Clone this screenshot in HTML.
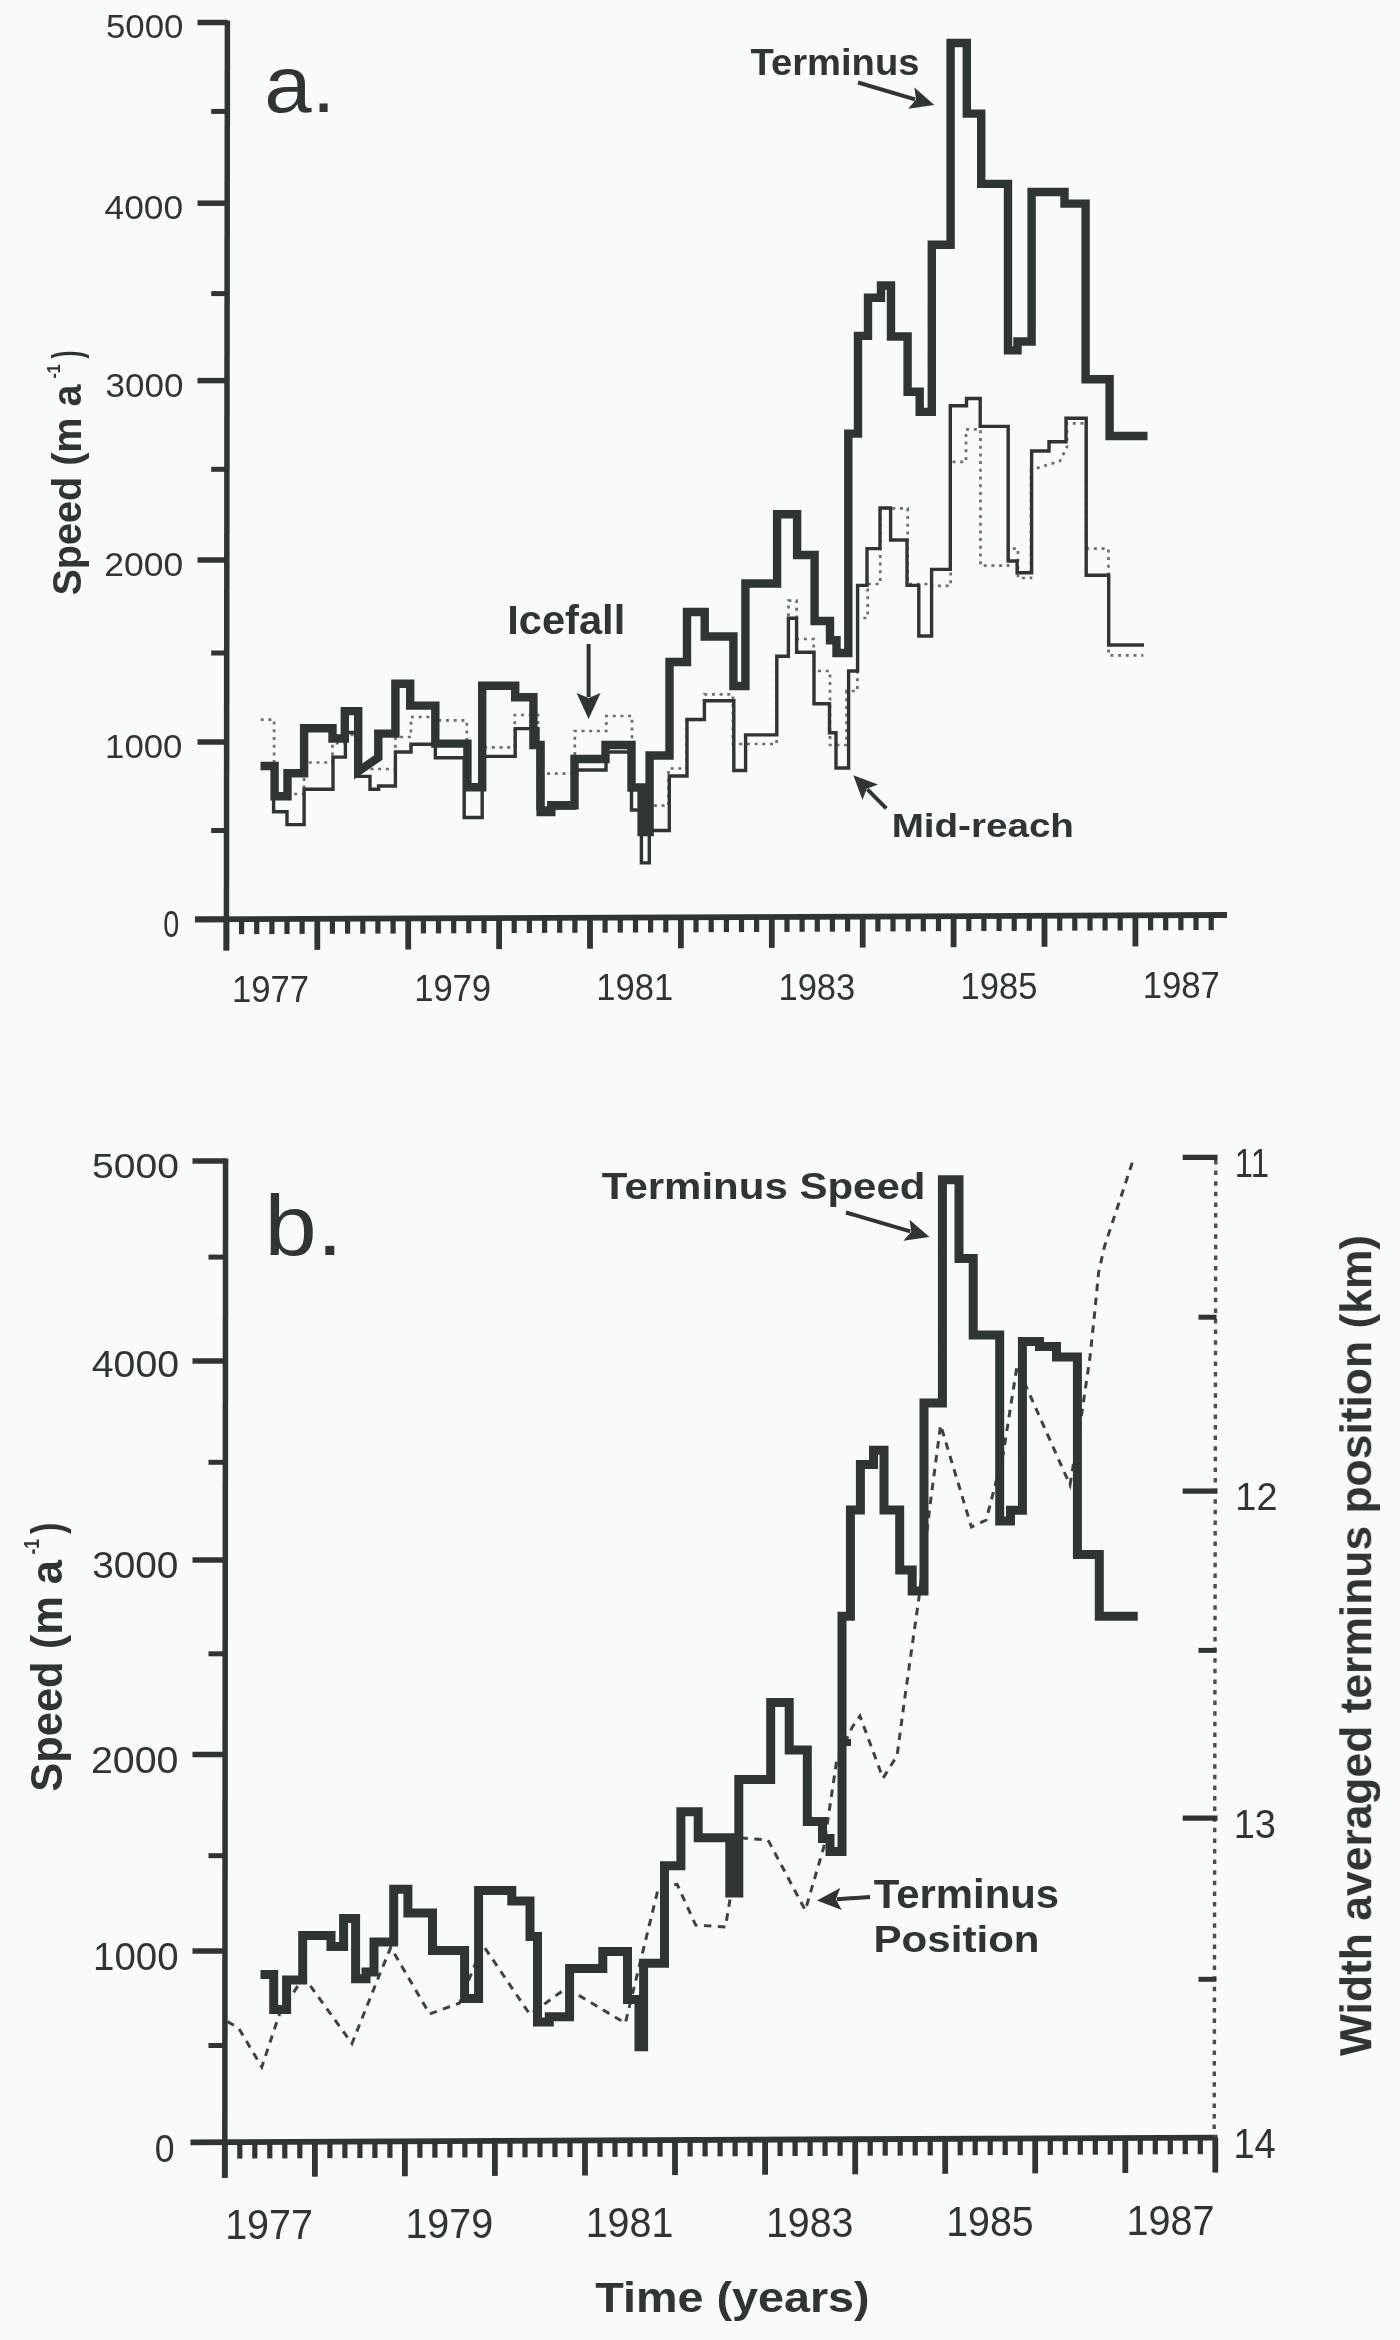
<!DOCTYPE html>
<html><head><meta charset="utf-8"><title>Glacier speed</title>
<style>
html,body{margin:0;padding:0;background:#f9fbf9;}
svg{display:block;}
text{font-family:"Liberation Sans", sans-serif;}
</style></head>
<body>
<svg xmlns="http://www.w3.org/2000/svg" width="1400" height="2340" viewBox="0 0 1400 2340">
<defs><filter id="soft" x="0" y="0" width="1" height="1"><feGaussianBlur stdDeviation="0.55"/></filter></defs>
<rect x="0" y="0" width="1400" height="2340" fill="#f9fbf9"/>
<g filter="url(#soft)">
<line x1="227.4" y1="20.5" x2="226.4" y2="950.5" stroke="#2f3533" stroke-width="5.5" />
<line x1="195.0" y1="919.4" x2="1227.0" y2="915.0" stroke="#2f3533" stroke-width="5.8" />
<line x1="197.5" y1="22.5" x2="227.4" y2="22.5" stroke="#2f3533" stroke-width="5.5" />
<line x1="211.2" y1="111.4" x2="227.3" y2="111.4" stroke="#2f3533" stroke-width="5.0" />
<line x1="197.5" y1="203.2" x2="227.2" y2="203.2" stroke="#2f3533" stroke-width="5.5" />
<line x1="211.2" y1="293.6" x2="227.1" y2="293.6" stroke="#2f3533" stroke-width="5.0" />
<line x1="197.5" y1="380.6" x2="227.0" y2="380.6" stroke="#2f3533" stroke-width="5.5" />
<line x1="211.2" y1="469.3" x2="226.9" y2="469.3" stroke="#2f3533" stroke-width="5.0" />
<line x1="197.5" y1="560.0" x2="226.8" y2="560.0" stroke="#2f3533" stroke-width="5.5" />
<line x1="211.2" y1="653.0" x2="226.7" y2="653.0" stroke="#2f3533" stroke-width="5.0" />
<line x1="197.5" y1="742.0" x2="226.6" y2="742.0" stroke="#2f3533" stroke-width="5.5" />
<line x1="211.2" y1="830.5" x2="226.5" y2="830.5" stroke="#2f3533" stroke-width="5.0" />
<line x1="195.0" y1="919.4" x2="226.4" y2="919.4" stroke="#2f3533" stroke-width="5.8" />
<text x="106.01" y="37.67" font-size="33.10" font-weight="normal" fill="#2f3533" textLength="77.50" lengthAdjust="spacingAndGlyphs">5000</text>
<text x="104.49" y="219.46" font-size="33.52" font-weight="normal" fill="#2f3533" textLength="78.63" lengthAdjust="spacingAndGlyphs">4000</text>
<text x="105.60" y="396.57" font-size="32.54" font-weight="normal" fill="#2f3533" textLength="77.92" lengthAdjust="spacingAndGlyphs">3000</text>
<text x="104.23" y="575.86" font-size="34.08" font-weight="normal" fill="#2f3533" textLength="78.90" lengthAdjust="spacingAndGlyphs">2000</text>
<text x="105.09" y="757.97" font-size="32.54" font-weight="normal" fill="#2f3533" textLength="77.31" lengthAdjust="spacingAndGlyphs">1000</text>
<text x="163.35" y="936.93" font-size="36.62" font-weight="normal" fill="#2f3533" textLength="15.99" lengthAdjust="spacingAndGlyphs">0</text>
<line x1="226.4" y1="919.3" x2="226.4" y2="950.3" stroke="#2f3533" stroke-width="5.8" />
<line x1="317.3" y1="918.9" x2="317.3" y2="949.9" stroke="#2f3533" stroke-width="5.8" />
<line x1="408.2" y1="918.5" x2="408.2" y2="949.5" stroke="#2f3533" stroke-width="5.8" />
<line x1="499.1" y1="918.1" x2="499.1" y2="949.1" stroke="#2f3533" stroke-width="5.8" />
<line x1="590.0" y1="917.7" x2="590.0" y2="948.7" stroke="#2f3533" stroke-width="5.8" />
<line x1="680.9" y1="917.3" x2="680.9" y2="948.3" stroke="#2f3533" stroke-width="5.8" />
<line x1="771.8" y1="916.9" x2="771.8" y2="947.9" stroke="#2f3533" stroke-width="5.8" />
<line x1="862.7" y1="916.6" x2="862.7" y2="947.6" stroke="#2f3533" stroke-width="5.8" />
<line x1="953.6" y1="916.2" x2="953.6" y2="947.2" stroke="#2f3533" stroke-width="5.8" />
<line x1="1044.5" y1="915.8" x2="1044.5" y2="946.8" stroke="#2f3533" stroke-width="5.8" />
<line x1="1135.4" y1="915.4" x2="1135.4" y2="946.4" stroke="#2f3533" stroke-width="5.8" />
<line x1="241.6" y1="919.2" x2="241.6" y2="934.2" stroke="#2f3533" stroke-width="5.2" />
<line x1="256.7" y1="919.1" x2="256.7" y2="934.1" stroke="#2f3533" stroke-width="5.2" />
<line x1="271.9" y1="919.1" x2="271.9" y2="934.1" stroke="#2f3533" stroke-width="5.2" />
<line x1="287.0" y1="919.0" x2="287.0" y2="934.0" stroke="#2f3533" stroke-width="5.2" />
<line x1="302.1" y1="918.9" x2="302.1" y2="933.9" stroke="#2f3533" stroke-width="5.2" />
<line x1="332.4" y1="918.8" x2="332.4" y2="933.8" stroke="#2f3533" stroke-width="5.2" />
<line x1="347.6" y1="918.7" x2="347.6" y2="933.7" stroke="#2f3533" stroke-width="5.2" />
<line x1="362.8" y1="918.7" x2="362.8" y2="933.7" stroke="#2f3533" stroke-width="5.2" />
<line x1="377.9" y1="918.6" x2="377.9" y2="933.6" stroke="#2f3533" stroke-width="5.2" />
<line x1="393.1" y1="918.6" x2="393.1" y2="933.6" stroke="#2f3533" stroke-width="5.2" />
<line x1="423.4" y1="918.4" x2="423.4" y2="933.4" stroke="#2f3533" stroke-width="5.2" />
<line x1="438.5" y1="918.4" x2="438.5" y2="933.4" stroke="#2f3533" stroke-width="5.2" />
<line x1="453.7" y1="918.3" x2="453.7" y2="933.3" stroke="#2f3533" stroke-width="5.2" />
<line x1="468.8" y1="918.2" x2="468.8" y2="933.2" stroke="#2f3533" stroke-width="5.2" />
<line x1="484.0" y1="918.2" x2="484.0" y2="933.2" stroke="#2f3533" stroke-width="5.2" />
<line x1="514.2" y1="918.0" x2="514.2" y2="933.0" stroke="#2f3533" stroke-width="5.2" />
<line x1="529.4" y1="918.0" x2="529.4" y2="933.0" stroke="#2f3533" stroke-width="5.2" />
<line x1="544.6" y1="917.9" x2="544.6" y2="932.9" stroke="#2f3533" stroke-width="5.2" />
<line x1="559.7" y1="917.8" x2="559.7" y2="932.8" stroke="#2f3533" stroke-width="5.2" />
<line x1="574.9" y1="917.8" x2="574.9" y2="932.8" stroke="#2f3533" stroke-width="5.2" />
<line x1="605.1" y1="917.7" x2="605.1" y2="932.7" stroke="#2f3533" stroke-width="5.2" />
<line x1="620.3" y1="917.6" x2="620.3" y2="932.6" stroke="#2f3533" stroke-width="5.2" />
<line x1="635.5" y1="917.5" x2="635.5" y2="932.5" stroke="#2f3533" stroke-width="5.2" />
<line x1="650.6" y1="917.5" x2="650.6" y2="932.5" stroke="#2f3533" stroke-width="5.2" />
<line x1="665.8" y1="917.4" x2="665.8" y2="932.4" stroke="#2f3533" stroke-width="5.2" />
<line x1="696.0" y1="917.3" x2="696.0" y2="932.3" stroke="#2f3533" stroke-width="5.2" />
<line x1="711.2" y1="917.2" x2="711.2" y2="932.2" stroke="#2f3533" stroke-width="5.2" />
<line x1="726.4" y1="917.1" x2="726.4" y2="932.1" stroke="#2f3533" stroke-width="5.2" />
<line x1="741.5" y1="917.1" x2="741.5" y2="932.1" stroke="#2f3533" stroke-width="5.2" />
<line x1="756.6" y1="917.0" x2="756.6" y2="932.0" stroke="#2f3533" stroke-width="5.2" />
<line x1="787.0" y1="916.9" x2="787.0" y2="931.9" stroke="#2f3533" stroke-width="5.2" />
<line x1="802.1" y1="916.8" x2="802.1" y2="931.8" stroke="#2f3533" stroke-width="5.2" />
<line x1="817.3" y1="916.7" x2="817.3" y2="931.7" stroke="#2f3533" stroke-width="5.2" />
<line x1="832.4" y1="916.7" x2="832.4" y2="931.7" stroke="#2f3533" stroke-width="5.2" />
<line x1="847.6" y1="916.6" x2="847.6" y2="931.6" stroke="#2f3533" stroke-width="5.2" />
<line x1="877.9" y1="916.5" x2="877.9" y2="931.5" stroke="#2f3533" stroke-width="5.2" />
<line x1="893.0" y1="916.4" x2="893.0" y2="931.4" stroke="#2f3533" stroke-width="5.2" />
<line x1="908.2" y1="916.4" x2="908.2" y2="931.4" stroke="#2f3533" stroke-width="5.2" />
<line x1="923.3" y1="916.3" x2="923.3" y2="931.3" stroke="#2f3533" stroke-width="5.2" />
<line x1="938.5" y1="916.2" x2="938.5" y2="931.2" stroke="#2f3533" stroke-width="5.2" />
<line x1="968.8" y1="916.1" x2="968.8" y2="931.1" stroke="#2f3533" stroke-width="5.2" />
<line x1="983.9" y1="916.0" x2="983.9" y2="931.0" stroke="#2f3533" stroke-width="5.2" />
<line x1="999.1" y1="916.0" x2="999.1" y2="931.0" stroke="#2f3533" stroke-width="5.2" />
<line x1="1014.2" y1="915.9" x2="1014.2" y2="930.9" stroke="#2f3533" stroke-width="5.2" />
<line x1="1029.3" y1="915.8" x2="1029.3" y2="930.8" stroke="#2f3533" stroke-width="5.2" />
<line x1="1059.7" y1="915.7" x2="1059.7" y2="930.7" stroke="#2f3533" stroke-width="5.2" />
<line x1="1074.8" y1="915.6" x2="1074.8" y2="930.6" stroke="#2f3533" stroke-width="5.2" />
<line x1="1090.0" y1="915.6" x2="1090.0" y2="930.6" stroke="#2f3533" stroke-width="5.2" />
<line x1="1105.1" y1="915.5" x2="1105.1" y2="930.5" stroke="#2f3533" stroke-width="5.2" />
<line x1="1120.2" y1="915.5" x2="1120.2" y2="930.5" stroke="#2f3533" stroke-width="5.2" />
<line x1="1150.6" y1="915.3" x2="1150.6" y2="930.3" stroke="#2f3533" stroke-width="5.2" />
<line x1="1165.7" y1="915.3" x2="1165.7" y2="930.3" stroke="#2f3533" stroke-width="5.2" />
<line x1="1180.9" y1="915.2" x2="1180.9" y2="930.2" stroke="#2f3533" stroke-width="5.2" />
<line x1="1196.0" y1="915.1" x2="1196.0" y2="930.1" stroke="#2f3533" stroke-width="5.2" />
<line x1="1211.2" y1="915.1" x2="1211.2" y2="930.1" stroke="#2f3533" stroke-width="5.2" />
<text x="232.00" y="1002.04" font-size="36.34" font-weight="normal" fill="#2f3533" textLength="77.12" lengthAdjust="spacingAndGlyphs">1977</text>
<text x="414.16" y="1001.24" font-size="36.34" font-weight="normal" fill="#2f3533" textLength="76.94" lengthAdjust="spacingAndGlyphs">1979</text>
<text x="596.31" y="1000.44" font-size="36.34" font-weight="normal" fill="#2f3533" textLength="76.94" lengthAdjust="spacingAndGlyphs">1981</text>
<text x="778.46" y="999.64" font-size="36.34" font-weight="normal" fill="#2f3533" textLength="76.76" lengthAdjust="spacingAndGlyphs">1983</text>
<text x="960.61" y="998.84" font-size="36.34" font-weight="normal" fill="#2f3533" textLength="76.76" lengthAdjust="spacingAndGlyphs">1985</text>
<text x="1142.75" y="998.04" font-size="36.34" font-weight="normal" fill="#2f3533" textLength="77.12" lengthAdjust="spacingAndGlyphs">1987</text>
<polyline points="260.7,719.6 274.1,719.6 274.1,794.0 304.1,794.0 304.1,762.5 332.5,762.5 332.5,743.2 345.0,743.2 345.0,735.0 358.0,735.0 358.0,769.0 395.4,769.0 395.4,737.0 410.9,737.0 410.9,717.0 435.3,717.0 435.3,720.4 466.8,720.4 466.8,788.0 482.2,788.0 482.2,747.4 514.8,747.4 514.8,715.0 538.0,715.0 538.0,773.6 574.8,773.6 574.8,731.0 606.3,731.0 606.3,716.0 632.0,716.0 632.0,790.0 650.0,790.0 650.0,805.7 668.5,805.7 668.5,768.5 686.6,768.5 686.6,720.0 704.5,720.0 704.5,694.3 732.9,694.3 732.9,744.0 776.6,744.0 776.6,656.3 788.5,656.3 788.5,600.6 796.6,600.6 796.6,639.0 813.7,639.0 813.7,671.0 830.0,671.0 830.0,745.0 846.5,745.0 846.5,691.0 857.4,691.0 857.4,618.0 867.7,618.0 867.7,584.0 880.3,584.0 880.3,508.3 907.7,508.3 907.7,584.0 931.6,584.0 931.6,585.9 950.6,585.9 950.6,461.9 966.0,461.9 966.0,429.3 980.5,429.3 980.5,565.7 1008.0,565.7 1008.0,548.6 1018.0,548.6 1018.0,578.0 1031.0,578.0 1031.0,470.0 1060.0,461.0 1067.0,447.0 1067.0,423.4 1086.0,423.4 1086.0,548.6 1108.5,548.6 1108.5,655.3 1143.4,655.3" fill="none" stroke="#6a6f6d" stroke-width="2.7" stroke-dasharray="3 4.7" stroke-linejoin="miter"/>
<polyline points="262.0,768.0 273.6,768.0 273.6,811.8 287.0,811.8 287.0,824.6 304.1,824.6 304.1,789.3 333.0,789.3 333.0,757.1 345.4,757.1 345.4,732.5 358.0,732.5 358.0,776.4 370.0,776.4 370.0,789.3 378.6,789.3 378.6,786.0 395.4,786.0 395.4,752.0 411.0,752.0 411.0,744.2 435.3,744.2 435.3,757.7 464.2,757.7 464.2,817.5 482.2,817.5 482.2,756.4 515.2,756.4 515.2,728.6 538.0,728.6 538.0,808.0 574.5,808.0 574.5,770.0 606.0,770.0 606.0,752.0 631.5,752.0 631.5,810.0 641.4,810.0 641.4,862.9 649.3,862.9 649.3,830.5 669.3,830.5 669.3,776.0 687.0,776.0 687.0,719.5 704.4,719.5 704.4,700.8 733.8,700.8 733.8,770.5 745.6,770.5 745.6,734.9 776.8,734.9 776.8,656.3 788.4,656.3 788.4,618.3 796.6,618.3 796.6,652.3 814.0,652.3 814.0,703.7 829.5,703.7 829.5,732.8 836.0,732.8 836.0,768.0 848.6,768.0 848.6,671.0 857.6,671.0 857.6,585.4 867.0,585.4 867.0,548.6 880.0,548.6 880.0,508.0 890.6,508.0 890.6,540.0 907.0,540.0 907.0,585.4 918.8,585.4 918.8,636.0 931.6,636.0 931.6,569.4 950.3,569.4 950.3,405.7 966.5,405.7 966.5,398.5 980.2,398.5 980.2,426.4 1008.2,426.4 1008.2,561.0 1017.1,561.0 1017.1,572.8 1031.6,572.8 1031.6,451.0 1049.0,451.0 1049.0,441.8 1066.0,441.8 1066.0,418.3 1086.2,418.3 1086.2,575.3 1108.7,575.3 1108.7,645.0 1144.0,645.0" fill="none" stroke="#2f3533" stroke-width="3.4" stroke-linejoin="miter" stroke-linecap="butt"/>
<polyline points="260.5,766.0 274.6,766.0 274.6,796.3 287.5,796.3 287.5,773.2 304.1,773.2 304.1,728.2 332.5,728.2 332.5,738.5 344.8,738.5 344.8,711.1 358.2,711.1 358.2,771.5 378.3,757.5 378.3,733.6 395.4,733.6 395.4,683.8 410.2,683.8 410.2,705.6 435.3,705.6 435.3,743.6 467.4,743.6 467.4,787.3 482.2,787.3 482.2,685.7 515.2,685.7 515.2,697.3 533.4,697.3 533.4,745.0 540.6,745.0 540.6,812.0 551.3,812.0 551.3,805.3 574.5,805.3 574.5,759.0 605.5,759.0 605.5,745.0 631.5,745.0 631.5,787.5 641.6,787.5 641.6,832.0 649.6,832.0 649.6,755.5 669.5,755.5 669.5,662.0 687.0,662.0 687.0,612.0 704.7,612.0 704.7,636.5 733.4,636.5 733.4,686.0 745.4,686.0 745.4,583.5 777.1,583.5 777.1,514.3 797.1,514.3 797.1,555.0 814.6,555.0 814.6,621.0 830.0,621.0 830.0,640.3 836.5,640.3 836.5,653.0 848.3,653.0 848.3,433.6 858.0,433.6 858.0,335.9 868.0,335.9 868.0,297.7 881.0,297.7 881.0,285.5 891.0,285.5 891.0,336.5 907.6,336.5 907.6,391.7 919.7,391.7 919.7,411.9 931.8,411.9 931.8,244.7 950.6,244.7 950.6,43.0 966.8,43.0 966.8,113.6 981.2,113.6 981.2,183.9 1008.0,183.9 1008.0,350.4 1017.5,350.4 1017.5,341.5 1031.6,341.5 1031.6,192.0 1064.5,192.0 1064.5,203.6 1085.6,203.6 1085.6,379.2 1109.6,379.2 1109.6,436.0 1147.5,436.0" fill="none" stroke="#2f3533" stroke-width="8.4" stroke-linejoin="miter" stroke-miterlimit="10" stroke-linecap="butt"/>
<text x="264.39" y="112.40" font-size="80.18" font-weight="normal" fill="#2f3533" textLength="71.01" lengthAdjust="spacingAndGlyphs">a.</text>
<text x="750.42" y="75.44" font-size="36.19" font-weight="bold" fill="#2f3533" textLength="169.08" lengthAdjust="spacingAndGlyphs">Terminus</text>
<line x1="858.0" y1="82.5" x2="915.1" y2="99.3" stroke="#2f3533" stroke-width="4" />
<polygon points="934.3,104.9 908.2,108.7 916.1,99.5 914.4,87.6" fill="#2f3533"/>
<text x="507.19" y="634.49" font-size="40.54" font-weight="bold" fill="#2f3533" textLength="118.02" lengthAdjust="spacingAndGlyphs">Icefall</text>
<line x1="588.6" y1="644.0" x2="588.6" y2="697.0" stroke="#2f3533" stroke-width="4" />
<polygon points="588.6,719.0 576.6,693.0 588.6,698.0 600.6,693.0" fill="#2f3533"/>
<text x="891.69" y="836.97" font-size="33.47" font-weight="bold" fill="#2f3533" textLength="182.25" lengthAdjust="spacingAndGlyphs">Mid-reach</text>
<line x1="886.3" y1="808.3" x2="867.4" y2="789.4" stroke="#2f3533" stroke-width="4" />
<polygon points="853.3,775.3 878.0,784.5 866.7,788.7 862.5,800.0" fill="#2f3533"/>
<text x="80.91" y="595.59" font-size="40.43" font-weight="bold" fill="#2f3533" textLength="211.09" lengthAdjust="spacingAndGlyphs" transform="rotate(-90 80.91 595.59)">Speed (m a</text>
<text x="60.40" y="378.54" font-size="19.28" font-weight="bold" fill="#2f3533" textLength="14.34" lengthAdjust="spacingAndGlyphs" transform="rotate(-90 60.40 378.54)">-1</text>
<text x="80.80" y="358.40" font-size="40.96" font-weight="bold" fill="#2f3533" textLength="7.95" lengthAdjust="spacingAndGlyphs" transform="rotate(-90 80.80 358.40)">)</text>
<line x1="225.6" y1="1158.5" x2="224.8" y2="2178.0" stroke="#2f3533" stroke-width="5.5" />
<line x1="190.5" y1="2142.3" x2="1217.4" y2="2137.6" stroke="#2f3533" stroke-width="5.8" />
<line x1="192.5" y1="1161.1" x2="225.6" y2="1161.1" stroke="#2f3533" stroke-width="5.5" />
<line x1="208.5" y1="1257.1" x2="225.5" y2="1257.1" stroke="#2f3533" stroke-width="5.0" />
<line x1="192.5" y1="1361.1" x2="225.4" y2="1361.1" stroke="#2f3533" stroke-width="5.5" />
<line x1="208.5" y1="1462.3" x2="225.4" y2="1462.3" stroke="#2f3533" stroke-width="5.0" />
<line x1="192.5" y1="1560.0" x2="225.3" y2="1560.0" stroke="#2f3533" stroke-width="5.5" />
<line x1="208.5" y1="1653.8" x2="225.2" y2="1653.8" stroke="#2f3533" stroke-width="5.0" />
<line x1="192.5" y1="1754.6" x2="225.1" y2="1754.6" stroke="#2f3533" stroke-width="5.5" />
<line x1="208.5" y1="1855.7" x2="225.1" y2="1855.7" stroke="#2f3533" stroke-width="5.0" />
<line x1="192.5" y1="1951.1" x2="225.0" y2="1951.1" stroke="#2f3533" stroke-width="5.5" />
<line x1="208.5" y1="2045.5" x2="224.9" y2="2045.5" stroke="#2f3533" stroke-width="5.0" />
<text x="92.14" y="1178.45" font-size="35.35" font-weight="normal" fill="#2f3533" textLength="86.92" lengthAdjust="spacingAndGlyphs">5000</text>
<text x="91.82" y="1377.34" font-size="36.20" font-weight="normal" fill="#2f3533" textLength="87.24" lengthAdjust="spacingAndGlyphs">4000</text>
<text x="92.15" y="1578.24" font-size="36.20" font-weight="normal" fill="#2f3533" textLength="86.30" lengthAdjust="spacingAndGlyphs">3000</text>
<text x="90.93" y="1772.84" font-size="36.20" font-weight="normal" fill="#2f3533" textLength="87.53" lengthAdjust="spacingAndGlyphs">2000</text>
<text x="93.12" y="1970.12" font-size="38.03" font-weight="normal" fill="#2f3533" textLength="85.52" lengthAdjust="spacingAndGlyphs">1000</text>
<text x="154.77" y="2161.92" font-size="38.45" font-weight="normal" fill="#2f3533" textLength="19.81" lengthAdjust="spacingAndGlyphs">0</text>
<line x1="224.8" y1="2142.1" x2="224.8" y2="2177.1" stroke="#2f3533" stroke-width="5.8" />
<line x1="314.9" y1="2141.7" x2="314.9" y2="2176.7" stroke="#2f3533" stroke-width="5.8" />
<line x1="404.9" y1="2141.3" x2="404.9" y2="2176.3" stroke="#2f3533" stroke-width="5.8" />
<line x1="494.9" y1="2140.9" x2="494.9" y2="2175.9" stroke="#2f3533" stroke-width="5.8" />
<line x1="585.0" y1="2140.5" x2="585.0" y2="2175.5" stroke="#2f3533" stroke-width="5.8" />
<line x1="675.0" y1="2140.1" x2="675.0" y2="2175.1" stroke="#2f3533" stroke-width="5.8" />
<line x1="765.1" y1="2139.7" x2="765.1" y2="2174.7" stroke="#2f3533" stroke-width="5.8" />
<line x1="855.2" y1="2139.3" x2="855.2" y2="2174.3" stroke="#2f3533" stroke-width="5.8" />
<line x1="945.2" y1="2138.8" x2="945.2" y2="2173.8" stroke="#2f3533" stroke-width="5.8" />
<line x1="1035.2" y1="2138.4" x2="1035.2" y2="2173.4" stroke="#2f3533" stroke-width="5.8" />
<line x1="1125.3" y1="2138.0" x2="1125.3" y2="2173.0" stroke="#2f3533" stroke-width="5.8" />
<line x1="1215.3" y1="2137.6" x2="1215.3" y2="2172.6" stroke="#2f3533" stroke-width="5.8" />
<line x1="239.8" y1="2142.1" x2="239.8" y2="2158.6" stroke="#2f3533" stroke-width="5.2" />
<line x1="254.8" y1="2142.0" x2="254.8" y2="2158.5" stroke="#2f3533" stroke-width="5.2" />
<line x1="269.8" y1="2141.9" x2="269.8" y2="2158.4" stroke="#2f3533" stroke-width="5.2" />
<line x1="284.8" y1="2141.9" x2="284.8" y2="2158.4" stroke="#2f3533" stroke-width="5.2" />
<line x1="299.8" y1="2141.8" x2="299.8" y2="2158.3" stroke="#2f3533" stroke-width="5.2" />
<line x1="329.9" y1="2141.7" x2="329.9" y2="2158.2" stroke="#2f3533" stroke-width="5.2" />
<line x1="344.9" y1="2141.6" x2="344.9" y2="2158.1" stroke="#2f3533" stroke-width="5.2" />
<line x1="359.9" y1="2141.5" x2="359.9" y2="2158.0" stroke="#2f3533" stroke-width="5.2" />
<line x1="374.9" y1="2141.5" x2="374.9" y2="2158.0" stroke="#2f3533" stroke-width="5.2" />
<line x1="389.9" y1="2141.4" x2="389.9" y2="2157.9" stroke="#2f3533" stroke-width="5.2" />
<line x1="419.9" y1="2141.3" x2="419.9" y2="2157.8" stroke="#2f3533" stroke-width="5.2" />
<line x1="434.9" y1="2141.2" x2="434.9" y2="2157.7" stroke="#2f3533" stroke-width="5.2" />
<line x1="449.9" y1="2141.1" x2="449.9" y2="2157.6" stroke="#2f3533" stroke-width="5.2" />
<line x1="464.9" y1="2141.0" x2="464.9" y2="2157.5" stroke="#2f3533" stroke-width="5.2" />
<line x1="479.9" y1="2141.0" x2="479.9" y2="2157.5" stroke="#2f3533" stroke-width="5.2" />
<line x1="510.0" y1="2140.8" x2="510.0" y2="2157.3" stroke="#2f3533" stroke-width="5.2" />
<line x1="525.0" y1="2140.8" x2="525.0" y2="2157.3" stroke="#2f3533" stroke-width="5.2" />
<line x1="540.0" y1="2140.7" x2="540.0" y2="2157.2" stroke="#2f3533" stroke-width="5.2" />
<line x1="555.0" y1="2140.6" x2="555.0" y2="2157.1" stroke="#2f3533" stroke-width="5.2" />
<line x1="570.0" y1="2140.6" x2="570.0" y2="2157.1" stroke="#2f3533" stroke-width="5.2" />
<line x1="600.0" y1="2140.4" x2="600.0" y2="2156.9" stroke="#2f3533" stroke-width="5.2" />
<line x1="615.0" y1="2140.4" x2="615.0" y2="2156.9" stroke="#2f3533" stroke-width="5.2" />
<line x1="630.0" y1="2140.3" x2="630.0" y2="2156.8" stroke="#2f3533" stroke-width="5.2" />
<line x1="645.0" y1="2140.2" x2="645.0" y2="2156.7" stroke="#2f3533" stroke-width="5.2" />
<line x1="660.0" y1="2140.2" x2="660.0" y2="2156.7" stroke="#2f3533" stroke-width="5.2" />
<line x1="690.1" y1="2140.0" x2="690.1" y2="2156.5" stroke="#2f3533" stroke-width="5.2" />
<line x1="705.1" y1="2139.9" x2="705.1" y2="2156.4" stroke="#2f3533" stroke-width="5.2" />
<line x1="720.1" y1="2139.9" x2="720.1" y2="2156.4" stroke="#2f3533" stroke-width="5.2" />
<line x1="735.1" y1="2139.8" x2="735.1" y2="2156.3" stroke="#2f3533" stroke-width="5.2" />
<line x1="750.1" y1="2139.7" x2="750.1" y2="2156.2" stroke="#2f3533" stroke-width="5.2" />
<line x1="780.1" y1="2139.6" x2="780.1" y2="2156.1" stroke="#2f3533" stroke-width="5.2" />
<line x1="795.1" y1="2139.5" x2="795.1" y2="2156.0" stroke="#2f3533" stroke-width="5.2" />
<line x1="810.1" y1="2139.5" x2="810.1" y2="2156.0" stroke="#2f3533" stroke-width="5.2" />
<line x1="825.1" y1="2139.4" x2="825.1" y2="2155.9" stroke="#2f3533" stroke-width="5.2" />
<line x1="840.1" y1="2139.3" x2="840.1" y2="2155.8" stroke="#2f3533" stroke-width="5.2" />
<line x1="870.2" y1="2139.2" x2="870.2" y2="2155.7" stroke="#2f3533" stroke-width="5.2" />
<line x1="885.2" y1="2139.1" x2="885.2" y2="2155.6" stroke="#2f3533" stroke-width="5.2" />
<line x1="900.2" y1="2139.1" x2="900.2" y2="2155.6" stroke="#2f3533" stroke-width="5.2" />
<line x1="915.2" y1="2139.0" x2="915.2" y2="2155.5" stroke="#2f3533" stroke-width="5.2" />
<line x1="930.2" y1="2138.9" x2="930.2" y2="2155.4" stroke="#2f3533" stroke-width="5.2" />
<line x1="960.2" y1="2138.8" x2="960.2" y2="2155.3" stroke="#2f3533" stroke-width="5.2" />
<line x1="975.2" y1="2138.7" x2="975.2" y2="2155.2" stroke="#2f3533" stroke-width="5.2" />
<line x1="990.2" y1="2138.6" x2="990.2" y2="2155.1" stroke="#2f3533" stroke-width="5.2" />
<line x1="1005.2" y1="2138.6" x2="1005.2" y2="2155.1" stroke="#2f3533" stroke-width="5.2" />
<line x1="1020.2" y1="2138.5" x2="1020.2" y2="2155.0" stroke="#2f3533" stroke-width="5.2" />
<line x1="1050.3" y1="2138.4" x2="1050.3" y2="2154.9" stroke="#2f3533" stroke-width="5.2" />
<line x1="1065.3" y1="2138.3" x2="1065.3" y2="2154.8" stroke="#2f3533" stroke-width="5.2" />
<line x1="1080.3" y1="2138.2" x2="1080.3" y2="2154.7" stroke="#2f3533" stroke-width="5.2" />
<line x1="1095.3" y1="2138.2" x2="1095.3" y2="2154.7" stroke="#2f3533" stroke-width="5.2" />
<line x1="1110.3" y1="2138.1" x2="1110.3" y2="2154.6" stroke="#2f3533" stroke-width="5.2" />
<line x1="1140.3" y1="2138.0" x2="1140.3" y2="2154.5" stroke="#2f3533" stroke-width="5.2" />
<line x1="1155.3" y1="2137.9" x2="1155.3" y2="2154.4" stroke="#2f3533" stroke-width="5.2" />
<line x1="1170.3" y1="2137.8" x2="1170.3" y2="2154.3" stroke="#2f3533" stroke-width="5.2" />
<line x1="1185.3" y1="2137.7" x2="1185.3" y2="2154.2" stroke="#2f3533" stroke-width="5.2" />
<line x1="1200.3" y1="2137.7" x2="1200.3" y2="2154.2" stroke="#2f3533" stroke-width="5.2" />
<text x="225.14" y="2239.27" font-size="43.24" font-weight="normal" fill="#2f3533" textLength="87.93" lengthAdjust="spacingAndGlyphs">1977</text>
<text x="405.40" y="2238.35" font-size="43.24" font-weight="normal" fill="#2f3533" textLength="87.72" lengthAdjust="spacingAndGlyphs">1979</text>
<text x="585.66" y="2237.43" font-size="43.24" font-weight="normal" fill="#2f3533" textLength="87.72" lengthAdjust="spacingAndGlyphs">1981</text>
<text x="765.93" y="2236.51" font-size="43.24" font-weight="normal" fill="#2f3533" textLength="87.51" lengthAdjust="spacingAndGlyphs">1983</text>
<text x="946.19" y="2235.59" font-size="43.24" font-weight="normal" fill="#2f3533" textLength="87.51" lengthAdjust="spacingAndGlyphs">1985</text>
<text x="1126.44" y="2234.67" font-size="43.24" font-weight="normal" fill="#2f3533" textLength="87.93" lengthAdjust="spacingAndGlyphs">1987</text>
<text x="595.33" y="2312.33" font-size="42.25" font-weight="bold" fill="#2f3533" textLength="274.34" lengthAdjust="spacingAndGlyphs">Time (years)</text>
<line x1="1215.8" y1="1160" x2="1214.2" y2="2137" stroke="#4a504e" stroke-width="3.4" stroke-dasharray="4.5 6.1"/>
<line x1="1182.7" y1="1157.3" x2="1217.5" y2="1157.3" stroke="#2f3533" stroke-width="5.2" />
<line x1="1198.5" y1="1317.2" x2="1216.5" y2="1317.2" stroke="#2f3533" stroke-width="5.0" />
<line x1="1182.7" y1="1491.2" x2="1217.5" y2="1491.2" stroke="#2f3533" stroke-width="5.2" />
<line x1="1198.5" y1="1650.4" x2="1216.5" y2="1650.4" stroke="#2f3533" stroke-width="5.0" />
<line x1="1182.7" y1="1818.1" x2="1217.5" y2="1818.1" stroke="#2f3533" stroke-width="5.2" />
<line x1="1198.5" y1="1979.3" x2="1216.5" y2="1979.3" stroke="#2f3533" stroke-width="5.0" />
<text x="1234.83" y="1176.80" font-size="40.43" font-weight="normal" fill="#2f3533" textLength="34.15" lengthAdjust="spacingAndGlyphs">11</text>
<text x="1235.36" y="1509.70" font-size="39.29" font-weight="normal" fill="#2f3533" textLength="42.12" lengthAdjust="spacingAndGlyphs">12</text>
<text x="1233.65" y="1838.09" font-size="41.13" font-weight="normal" fill="#2f3533" textLength="42.26" lengthAdjust="spacingAndGlyphs">13</text>
<text x="1233.45" y="2157.80" font-size="42.61" font-weight="normal" fill="#2f3533" textLength="42.28" lengthAdjust="spacingAndGlyphs">14</text>
<text x="1371.12" y="2055.90" font-size="44.17" font-weight="bold" fill="#2f3533" textLength="821.05" lengthAdjust="spacingAndGlyphs" transform="rotate(-90 1371.12 2055.90)">Width averaged terminus position (km)</text>
<text x="61.74" y="1791.70" font-size="43.64" font-weight="bold" fill="#2f3533" textLength="231.67" lengthAdjust="spacingAndGlyphs" transform="rotate(-90 61.74 1791.70)">Speed (m a</text>
<text x="38.90" y="1554.59" font-size="21.45" font-weight="bold" fill="#2f3533" textLength="15.41" lengthAdjust="spacingAndGlyphs" transform="rotate(-90 38.90 1554.59)">-1</text>
<text x="62.12" y="1533.90" font-size="44.17" font-weight="bold" fill="#2f3533" textLength="11.45" lengthAdjust="spacingAndGlyphs" transform="rotate(-90 62.12 1533.90)">)</text>
<polyline points="227.4,2021.6 238.6,2028.0 261.8,2067.0 279.4,2014.2 303.0,1978.0 307.3,1981.7 352.0,2043.5 379.7,1974.3 390.8,1947.4 429.6,2014.0 459.6,2003.0 482.9,1945.0 530.0,2014.6 566.4,1987.9 625.3,2023.2 658.6,1887.1 677.1,1884.3 695.7,1925.1 725.4,1927.0 740.3,1837.8 768.0,1840.0 805.3,1910.3 823.8,1847.1 836.8,1759.9 852.1,1727.4 859.9,1715.9 883.0,1778.2 897.1,1755.7 904.5,1700.0 919.0,1597.3 930.6,1500.9 940.6,1425.0 971.4,1527.0 986.2,1520.0 1003.3,1453.4 1017.0,1366.0 1070.0,1485.0 1082.0,1412.0 1090.0,1357.0 1094.7,1312.3 1098.6,1272.4 1104.4,1246.7 1133.5,1159.0" fill="none" stroke="#3d4341" stroke-width="3" stroke-dasharray="7.5 6.5"/>
<polyline points="260.5,1974.6 273.7,1974.6 273.7,2009.4 286.6,2009.4 286.6,1980.0 302.7,1980.0 302.7,1935.6 331.0,1935.6 331.0,1946.4 343.6,1946.4 343.6,1918.6 355.6,1918.6 355.6,1978.7 366.0,1978.7 366.0,1972.0 374.0,1972.0 374.0,1942.0 393.7,1942.0 393.7,1889.3 407.9,1889.3 407.9,1912.9 432.5,1912.9 432.5,1950.4 464.6,1950.4 464.6,1998.6 478.6,1998.6 478.6,1890.4 511.8,1890.4 511.8,1901.1 530.0,1901.1 530.0,1936.4 537.5,1936.4 537.5,2022.1 549.3,2022.1 549.3,2016.8 569.6,2016.8 569.6,1968.6 602.8,1968.6 602.8,1951.4 627.5,1951.4 627.5,1999.6 639.0,1999.6 639.0,2046.8 643.6,2046.8 643.6,1963.2 664.5,1963.2 664.5,1865.7 680.9,1865.7 680.9,1811.8 698.2,1811.8 698.2,1837.8 729.8,1837.8 729.8,1893.0 738.8,1893.0 738.8,1779.5 770.7,1779.5 770.7,1702.5 789.2,1702.5 789.2,1750.0 807.3,1750.0 807.3,1821.6 822.5,1821.6 822.5,1838.5 830.0,1838.5 830.0,1851.5 842.0,1851.5 842.0,1616.3 850.4,1616.3 850.4,1510.0 860.4,1510.0 860.4,1464.5 873.5,1464.5 873.5,1450.3 884.0,1450.3 884.0,1510.0 899.7,1510.0 899.7,1570.0 912.2,1570.0 912.2,1591.0 924.0,1591.0 924.0,1403.0 942.4,1403.0 942.4,1179.8 959.0,1179.8 959.0,1258.5 973.2,1258.5 973.2,1335.0 999.7,1335.0 999.7,1521.0 1010.5,1521.0 1010.5,1510.3 1022.4,1510.3 1022.4,1341.5 1039.5,1341.5 1039.5,1346.5 1056.5,1346.5 1056.5,1357.0 1077.4,1357.0 1077.4,1554.6 1099.3,1554.6 1099.3,1616.3 1137.7,1616.3" fill="none" stroke="#2f3533" stroke-width="9.0" stroke-linejoin="miter" stroke-miterlimit="10" stroke-linecap="butt"/>
<line x1="842.0" y1="1742.5" x2="851.0" y2="1742.5" stroke="#2f3533" stroke-width="7" />
<text x="264.59" y="1254.74" font-size="85.85" font-weight="normal" fill="#2f3533" textLength="78.33" lengthAdjust="spacingAndGlyphs">b.</text>
<text x="601.88" y="1199.01" font-size="37.11" font-weight="bold" fill="#2f3533" textLength="323.58" lengthAdjust="spacingAndGlyphs">Terminus Speed</text>
<line x1="846.0" y1="1212.5" x2="910.3" y2="1231.4" stroke="#2f3533" stroke-width="4" />
<polygon points="929.5,1237.0 903.4,1240.8 911.3,1231.7 909.6,1219.7" fill="#2f3533"/>
<text x="873.68" y="1908.30" font-size="40.27" font-weight="bold" fill="#2f3533" textLength="185.47" lengthAdjust="spacingAndGlyphs">Terminus</text>
<text x="873.56" y="1951.74" font-size="36.05" font-weight="bold" fill="#2f3533" textLength="166.04" lengthAdjust="spacingAndGlyphs">Position</text>
<line x1="870.0" y1="1897.0" x2="837.0" y2="1899.2" stroke="#2f3533" stroke-width="4" />
<polygon points="817.0,1900.5 840.2,1887.9 836.0,1899.2 841.7,1909.9" fill="#2f3533"/>
</g>
</svg>
</body></html>
